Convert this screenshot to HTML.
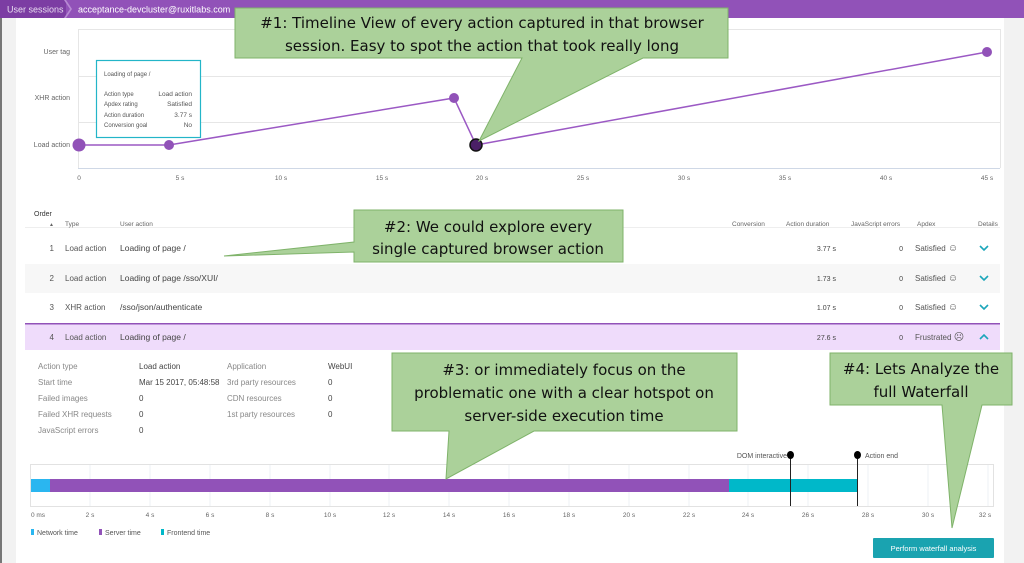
<!DOCTYPE html>
<html><head><meta charset="utf-8"><style>
html,body{margin:0;padding:0;width:1024px;height:563px;overflow:hidden;background:#fff}
svg{display:block;font-family:"Liberation Sans",sans-serif}
</style></head><body>
<svg width="1024" height="563" viewBox="0 0 1024 563" xmlns="http://www.w3.org/2000/svg">
<rect width="1024" height="563" fill="#fff"/>
<rect x="0" y="18" width="16" height="545" fill="#f2f2f2"/>
<rect x="0" y="18" width="2" height="545" fill="#777"/>
<rect x="1004" y="18" width="20" height="545" fill="#f2f2f2"/>
<rect x="0" y="0" width="1024" height="18" fill="#9152b8"/>
<rect x="0" y="0" width="66" height="18" fill="#7c3da3"/>
<polygon points="64,0 70,9 64,18 66,18 72,9 66,0" fill="#b78ad3"/>
<text x="7" y="12.5" font-size="9" fill="#e8dcf0">User sessions</text>
<text x="78" y="12.5" font-size="9" fill="#fff">acceptance-devcluster@ruxitlabs.com</text>

<g stroke="#e6e6e6" stroke-width="1">
<line x1="78" y1="29.5" x2="1000" y2="29.5"/>
<line x1="78" y1="76.5" x2="1000" y2="76.5"/>
<line x1="78" y1="122.5" x2="1000" y2="122.5"/>
<line x1="78.5" y1="29" x2="78.5" y2="168"/>
<line x1="1000.5" y1="29" x2="1000.5" y2="168"/>
</g>
<line x1="78" y1="168.5" x2="1000" y2="168.5" stroke="#cfd8e6"/>
<g font-size="7" fill="#666" text-anchor="end">
<text x="70" y="54">User tag</text>
<text x="70" y="100">XHR action</text>
<text x="70" y="147">Load action</text>
</g>
<g font-size="6.5" fill="#666" text-anchor="middle">
<text x="79" y="180">0</text><text x="180" y="180">5 s</text><text x="281" y="180">10 s</text><text x="382" y="180">15 s</text><text x="482" y="180">20 s</text><text x="583" y="180">25 s</text><text x="684" y="180">30 s</text><text x="785" y="180">35 s</text><text x="886" y="180">40 s</text><text x="987" y="180">45 s</text>
</g>
<polyline points="79,145 169,145 454,98 476,145 987,52" fill="none" stroke="#9b59c4" stroke-width="1.5"/>
<circle cx="79" cy="145" r="6.5" fill="#9152b8"/>
<circle cx="169" cy="145" r="5" fill="#9152b8"/>
<circle cx="454" cy="98" r="5" fill="#9152b8"/>
<circle cx="476" cy="145" r="6" fill="#4a1f66" stroke="#111" stroke-width="1.5"/>
<circle cx="987" cy="52" r="5" fill="#9152b8"/>
<rect x="96.5" y="60.5" width="104" height="77" fill="#fff" stroke="#23b5c8" stroke-width="1.2"/>
<g font-size="6" fill="#555">
<text x="104" y="76">Loading of page /</text>
<text x="104" y="96">Action type</text><text x="192" y="96" text-anchor="end" font-size="6.5">Load action</text>
<text x="104" y="106">Apdex rating</text><text x="192" y="106" text-anchor="end" font-size="6.5">Satisfied</text>
<text x="104" y="117">Action duration</text><text x="192" y="117" text-anchor="end" font-size="6.5">3.77 s</text>
<text x="104" y="127">Conversion goal</text><text x="192" y="127" text-anchor="end" font-size="6.5">No</text>
</g>

<text x="34" y="216" font-size="7" fill="#333">Order</text>
<line x1="25" y1="227.5" x2="1000" y2="227.5" stroke="#eee"/>
<g font-size="6.5" fill="#666">
<text x="49" y="226" font-size="5">▲</text>
<text x="65" y="226">Type</text>
<text x="120" y="226">User action</text>
<text x="732" y="226">Conversion</text>
<text x="786" y="226">Action duration</text>
<text x="851" y="226">JavaScript errors</text>
<text x="917" y="226">Apdex</text>
<text x="978" y="226">Details</text>
</g>
<rect x="25" y="264" width="975" height="29" fill="#f7f7f7"/>
<rect x="25" y="324" width="975" height="26" fill="#efdcfb"/>
<rect x="25" y="323" width="975" height="1.5" fill="#9152b8"/>
<g font-size="8" fill="#555">
<text x="54" y="251" text-anchor="end">1</text><text x="65" y="251">Load action</text><text x="120" y="251" fill="#444" font-size="8.5">Loading of page /</text>
<text x="54" y="281" text-anchor="end">2</text><text x="65" y="281">Load action</text><text x="120" y="281" fill="#444" font-size="8.5">Loading of page /sso/XUI/</text>
<text x="54" y="310" text-anchor="end">3</text><text x="65" y="310">XHR action</text><text x="120" y="310" fill="#444" font-size="8.5">/sso/json/authenticate</text>
<text x="54" y="340" text-anchor="end">4</text><text x="65" y="340">Load action</text><text x="120" y="340" fill="#444" font-size="8.5">Loading of page /</text>
</g>
<g font-size="7" fill="#444" text-anchor="end">
<text x="836" y="251">3.77 s</text><text x="836" y="281">1.73 s</text><text x="836" y="310">1.07 s</text><text x="836" y="340">27.6 s</text>
<text x="903" y="251">0</text><text x="903" y="281">0</text><text x="903" y="310">0</text><text x="903" y="340">0</text>
</g>
<g font-size="8" fill="#555">
<text x="915" y="251">Satisfied <tspan font-size="10">☺</tspan></text><text x="915" y="281">Satisfied <tspan font-size="10">☺</tspan></text><text x="915" y="310">Satisfied <tspan font-size="10">☺</tspan></text><text x="915" y="340">Frustrated <tspan font-size="10">☹</tspan></text>
</g>
<g fill="none" stroke="#1ba6ba" stroke-width="1.6">
<polyline points="980,246 984,250 988,246"/><polyline points="980,276 984,280 988,276"/><polyline points="980,305 984,309 988,305"/><polyline points="980,339 984,335 988,339"/>
</g>

<g font-size="8" fill="#888">
<text x="38" y="369">Action type</text><text x="38" y="385">Start time</text><text x="38" y="401">Failed images</text><text x="38" y="417">Failed XHR requests</text><text x="38" y="433">JavaScript errors</text>
<text x="227" y="369">Application</text><text x="227" y="385">3rd party resources</text><text x="227" y="401">CDN resources</text><text x="227" y="417">1st party resources</text>
</g>
<g font-size="8" fill="#444">
<text x="139" y="369">Load action</text><text x="139" y="385">Mar 15 2017, 05:48:58</text><text x="139" y="401">0</text><text x="139" y="417">0</text><text x="139" y="433">0</text>
<text x="328" y="369">WebUI</text><text x="328" y="385">0</text><text x="328" y="401">0</text><text x="328" y="417">0</text>
</g>

<rect x="30.5" y="464.5" width="963" height="42" fill="#fff" stroke="#e2e2e2"/>
<g stroke="#eef0f5">
<line x1="90" y1="465" x2="90" y2="506"/><line x1="150" y1="465" x2="150" y2="506"/><line x1="210" y1="465" x2="210" y2="506"/><line x1="270" y1="465" x2="270" y2="506"/><line x1="330" y1="465" x2="330" y2="506"/><line x1="389" y1="465" x2="389" y2="506"/><line x1="449" y1="465" x2="449" y2="506"/><line x1="509" y1="465" x2="509" y2="506"/><line x1="569" y1="465" x2="569" y2="506"/><line x1="629" y1="465" x2="629" y2="506"/><line x1="689" y1="465" x2="689" y2="506"/><line x1="748" y1="465" x2="748" y2="506"/><line x1="808" y1="465" x2="808" y2="506"/><line x1="868" y1="465" x2="868" y2="506"/><line x1="928" y1="465" x2="928" y2="506"/><line x1="988" y1="465" x2="988" y2="506"/>
</g>
<rect x="31" y="479" width="20" height="13" fill="#2ab6f0"/>
<rect x="50" y="479" width="679" height="13" fill="#9152b8"/>
<rect x="729" y="479" width="128" height="13" fill="#00b8c9"/>
<line x1="790.5" y1="455" x2="790.5" y2="506" stroke="#222"/>
<line x1="857.5" y1="455" x2="857.5" y2="506" stroke="#222"/>
<ellipse cx="790.5" cy="455" rx="3.5" ry="4" fill="#000"/>
<ellipse cx="857.5" cy="455" rx="3.5" ry="4" fill="#000"/>
<text x="787" y="458" font-size="7" fill="#555" text-anchor="end">DOM interactive</text>
<text x="865" y="458" font-size="7" fill="#555">Action end</text>
<g font-size="6.5" fill="#666" text-anchor="middle">
<text x="38" y="517">0 ms</text><text x="90" y="517">2 s</text><text x="150" y="517">4 s</text><text x="210" y="517">6 s</text><text x="270" y="517">8 s</text><text x="330" y="517">10 s</text><text x="389" y="517">12 s</text><text x="449" y="517">14 s</text><text x="509" y="517">16 s</text><text x="569" y="517">18 s</text><text x="629" y="517">20 s</text><text x="689" y="517">22 s</text><text x="748" y="517">24 s</text><text x="808" y="517">26 s</text><text x="868" y="517">28 s</text><text x="928" y="517">30 s</text><text x="985" y="517">32 s</text>
</g>
<g font-size="7" fill="#555">
<rect x="31" y="529" width="3" height="6" fill="#2ab6f0"/><text x="37" y="535">Network time</text>
<rect x="99" y="529" width="3" height="6" fill="#9152b8"/><text x="105" y="535">Server time</text>
<rect x="161" y="529" width="3" height="6" fill="#00b8c9"/><text x="167" y="535">Frontend time</text>
</g>
<rect x="873" y="538" width="121" height="20" fill="#1aa3b0" rx="1"/>
<text x="933.5" y="551" font-size="7.5" fill="#fff" text-anchor="middle">Perform waterfall analysis</text>

<g fill="#abd19a" stroke="#7fb36a" stroke-width="1">
<polygon points="235,8 728,8 728,58 643,58 479,141 522,58 235,58"/>
<polygon points="354,210 623,210 623,262 354,262 354,252 224,256 354,242"/>
<polygon points="392,353 737,353 737,431 534,431 446,479 449,431 392,431"/>
<polygon points="830,353 1012,353 1012,405 982,405 952,528 942,405 830,405"/>
</g>
<g font-family="'DejaVu Sans','Liberation Sans',sans-serif" font-size="15" fill="#111" text-anchor="middle">
<text x="482" y="28">#1: Timeline View of every action captured in that browser</text>
<text x="482" y="51">session. Easy to spot the action that took really long</text>
<text x="488" y="232">#2: We could explore every</text>
<text x="488" y="254">single captured browser action</text>
<text x="564" y="375">#3: or immediately focus on the</text>
<text x="564" y="398">problematic one with a clear hotspot on</text>
<text x="564" y="421">server-side execution time</text>
<text x="921" y="374">#4: Lets Analyze the</text>
<text x="921" y="397">full Waterfall</text>
</g>
</svg>
</body></html>
